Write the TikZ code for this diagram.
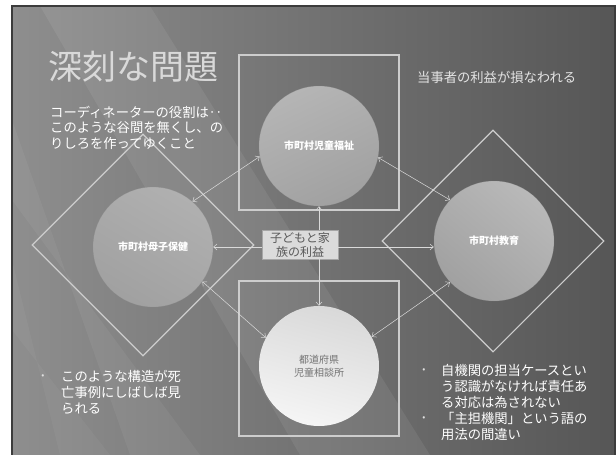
\documentclass[tikz,border=0pt]{standalone}
\usepackage{fontspec}
\newfontfamily\jp{Noto Sans CJK JP}
\usetikzlibrary{arrows.meta,shapes.geometric}
\newcommand\fsz[2]{\fontsize{#1}{#2}\selectfont}
\definecolor{frameln}{HTML}{CDCDCD}
\definecolor{connln}{HTML}{DADADA}
\definecolor{bgL}{HTML}{8E8E8E}
\definecolor{bgM}{HTML}{6E6E6E}
\definecolor{bgR}{HTML}{565656}
\definecolor{slideborder}{HTML}{3C3C3C}
\tikzset{
  framebox/.style={draw=frameln, line width=1.1pt},
  framediamond/.style={diamond, draw=frameln, line width=1.1pt, minimum width=222pt, minimum height=222pt, inner sep=0pt},
  orb/.style={circle, minimum size=120pt, inner sep=0pt},
  orbtext/.style={text=white, font=\jp\bfseries\fsz{10}{12.5}, align=center},
  conn/.style={draw=connln, line width=0.5pt},
  tipend/.style={-{Straight Barb[length=3.5pt,width=6pt]}},
  tipboth/.style={{Straight Barb[length=3.5pt,width=6pt]}-{Straight Barb[length=3.5pt,width=6pt]}},
  bodytext/.style={text=white, font=\jp\fsz{13.3}{15.8}, align=left, inner sep=0pt, anchor=north west},
  bullettext/.style={text=#1, font=\jp\fsz{9}{10}, inner sep=0pt},
}
\begin{document}
\begin{tikzpicture}[x=1pt,y=-1pt]
\useasboundingbox (0,0) rectangle (616,455);
\fill[white] (0,0) rectangle (616,455);
% slide background
\shade[left color=bgL, middle color=bgM, right color=bgR] (12,6) rectangle (616,455);
\fill[white, opacity=0.07] (40,6) -- (150,6) -- (430,455) -- (300,455) -- cycle;
\fill[white, opacity=0.05] (12,120) -- (12,200) -- (200,455) -- (130,455) -- cycle;
\fill[white, opacity=0.04] (12,260) -- (12,330) -- (110,455) -- (60,455) -- cycle;
\draw[slideborder, line width=1.3pt] (12,455) -- (12,6) -- (615,6) -- (615,455);

% frames
\draw[framebox] (239,55) rectangle (399,210);
\draw[framebox] (239,281) rectangle (399,436);
\node[framediamond] (ld) at (143,245) {};
\node[framediamond] (rd) at (493,241) {};

% circles
\shade[top color=gray!58, middle color=gray!42, bottom color=gray!74, shading angle=25]
  (319,146) circle[radius=60];
\draw[gray!90, line width=0.3pt, opacity=0.5] (319,146) circle[radius=60];
\node[orb] (tc) at (319,146) {};
\shade[top color=gray!62, middle color=gray!44, bottom color=gray!74, shading angle=-30]
  (153,247) circle[radius=60];
\draw[gray!90, line width=0.3pt, opacity=0.5] (153,247) circle[radius=60];
\node[orb] (lc) at (153,247) {};
\shade[top color=gray!55, middle color=gray!44, bottom color=gray!74, shading angle=-40]
  (494,241) circle[radius=60];
\draw[gray!90, line width=0.3pt, opacity=0.5] (494,241) circle[radius=60];
\node[orb] (rc) at (494,241) {};
\shade[top color=gray!30, bottom color=gray!8, shading angle=-15]
  (319,366) circle[radius=60];
\node[orb] (bc) at (319,366) {};

\node[orbtext] at (tc) {市町村児童福祉};
\node[orbtext] at (lc) {市町村母子保健};
\node[orbtext] at (rc) {市町村教育};
\node[orbtext, text=gray!110, font=\jp\fsz{10}{12.5}] at (bc) {都道府県\\児童相談所};

% center box
\node[fill=gray!28, draw=gray!70, line width=0.4pt, minimum width=76pt, minimum height=29pt,
      inner sep=1pt, text=gray!130, font=\jp\fsz{12}{14}, align=center] (cb) at (300,244.5)
  {子どもと家\\族の利益};

% connectors from center box
\draw[conn, tipend] (cb.north -| tc.south) -- (tc.south);
\draw[conn, tipend] (cb.south -| bc.north) -- (bc.north);
\draw[conn, tipend] (cb.west |- lc.east) -- (lc.east);
\draw[conn, tipend] (cb.east |- lc.east) -- (rc.west |- lc.east);

% double arrows between circles
\draw[conn, tipboth] (lc.49) -- (tc.190);
\draw[conn, tipboth] (tc.349) -- (rc.137);
\draw[conn, tipboth] (lc.325) -- (bc.152);
\draw[conn, tipboth] (bc.29) -- (rc.223);

% texts
\node[anchor=west, inner sep=0pt, text=gray!30, font=\jp\fsz{34}{40}] (title) at (48,67) {深刻な問題};
\node[anchor=west, inner sep=0pt, text=gray!22, font=\jp\fsz{13.3}{16}] (loss) at (417,77) {当事者の利益が損なわれる};
\node[bodytext] (coord) at (50,105.5)
  {コーディネーターの役割は‥\\このような谷間を無くし、の\\りしろを作ってゆくこと};

\node[bullettext=gray!25] (b1) at (43,377) {•};
\node[bodytext] (t1) at (61,370.5)
  {このような構造が死\\亡事例にしばしば見\\られる};

\node[bullettext=gray!25] (b2) at (424,371) {•};
\node[bodytext] (t2) at (441,364.5)
  {自機関の担当ケースとい\\う認識がなければ責任あ\\る対応は為されない};
\node[bullettext=gray!25] (b3) at (424,419) {•};
\node[bodytext] (t3) at (441,412.5)
  {「主担機関」という語の\\用法の間違い};
\end{tikzpicture}
\end{document}
